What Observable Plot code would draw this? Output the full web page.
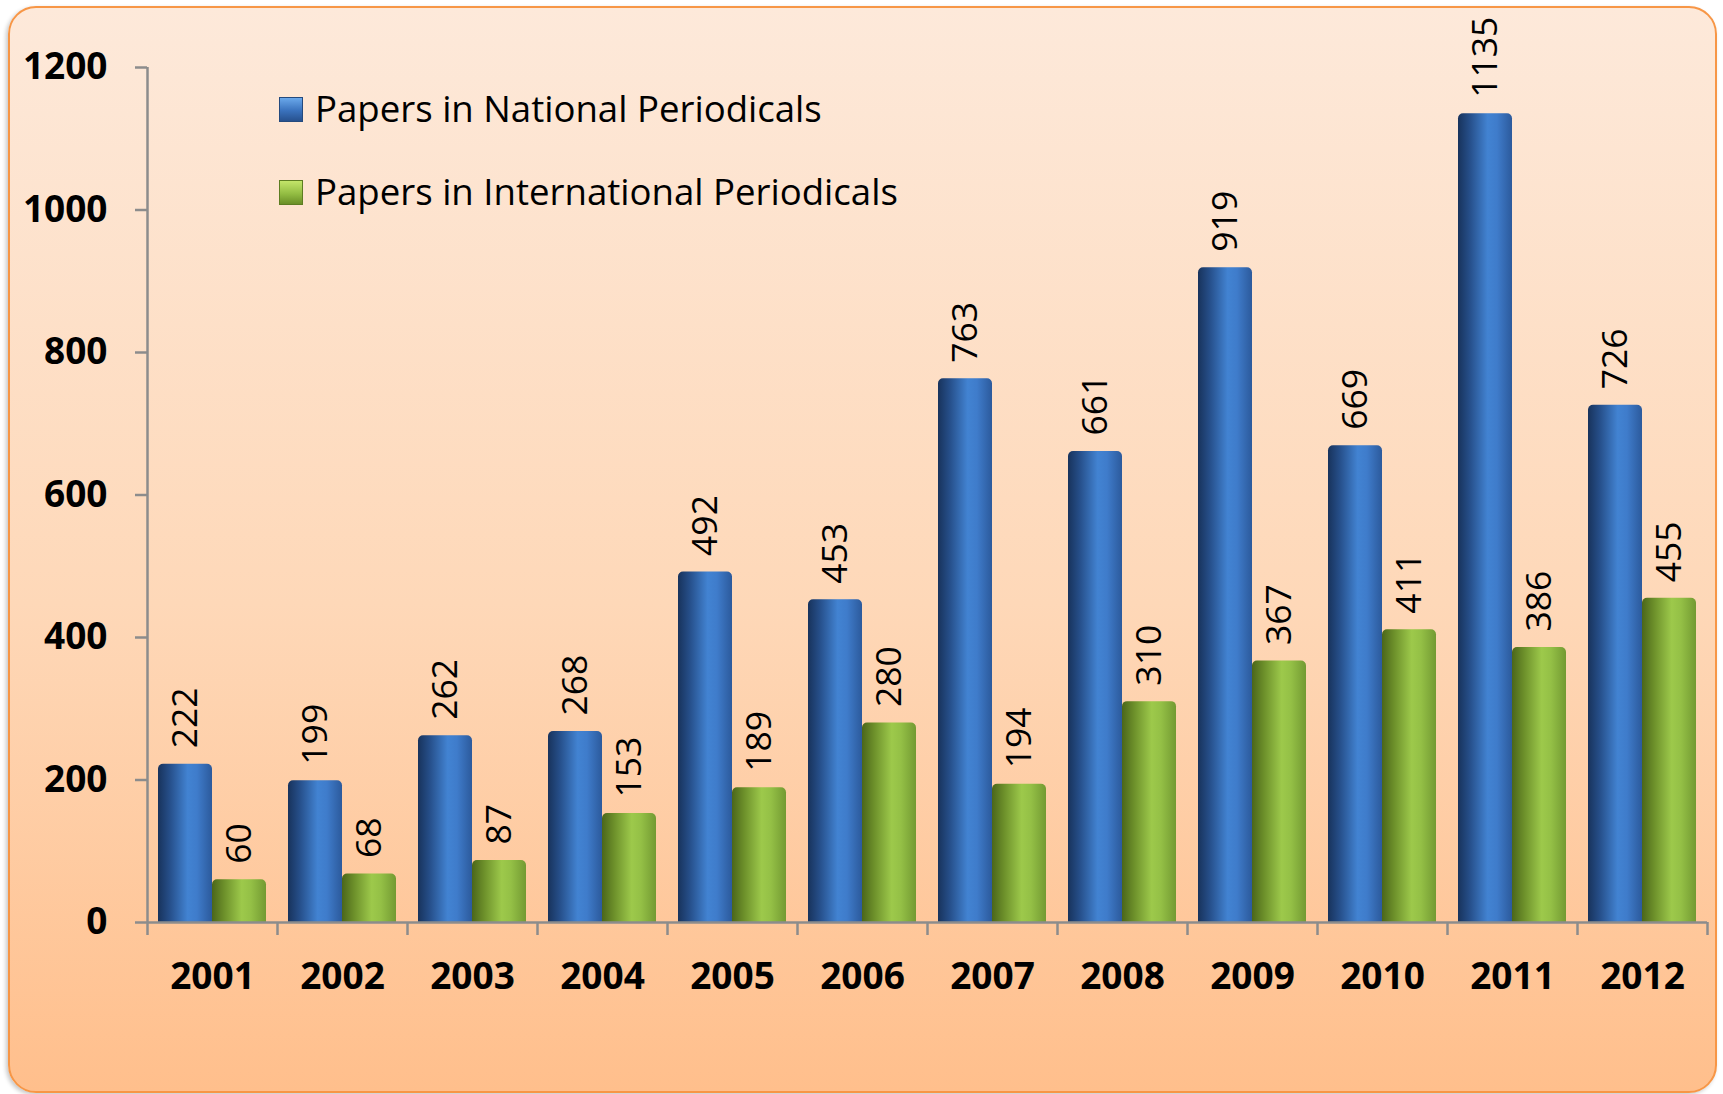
<!DOCTYPE html>
<html>
<head>
<meta charset="utf-8">
<script src="https://cdn.jsdelivr.net/npm/d3@7"></script>
<script src="https://cdn.jsdelivr.net/npm/@observablehq/plot@0.6"></script>
<style>
  html, body { margin: 0; padding: 0; background: #ffffff; }
  #wrap { position: relative; width: 1723px; height: 1094px; overflow: hidden; font-family: "Open Sans", sans-serif; }
  #bg { position: absolute; left: 8px; top: 6px; width: 1705px; height: 1083px;
        border: 2.5px solid #f79646; border-radius: 28px;
        background: linear-gradient(to bottom, #fde9da, #fed8b8 55%, #ffbf8c);
        box-shadow: -2px 2px 4px rgba(0,0,0,0.22); }
  #chart { position: absolute; left: 0; top: 0; }
  .lg { position: absolute; font-size: 36.6px; line-height: 36px; color: #000; white-space: nowrap; }
  .sw { position: absolute; width: 24px; height: 25px; box-sizing: border-box; }
</style>
</head>
<body>
<div id="wrap">
  <div id="bg"></div>
  <div id="chart"></div>
  <div class="sw" style="left:279px; top:97px; background: linear-gradient(to bottom, #6aa8ea, #3a72bd 55%, #27518e); border:1px solid #244a7e;"></div>
  <div class="lg" id="lg1" style="left:315px; top:90px;"></div>
  <div class="sw" style="left:279px; top:180px; background: linear-gradient(to bottom, #c3e56a, #93bd43 55%, #6a8f27); border:1px solid #5d7d22;"></div>
  <div class="lg" id="lg2" style="left:315px; top:173px;"></div>
</div>
<script>
// ---- data ----
const years = ["2001","2002","2003","2004","2005","2006","2007","2008","2009","2010","2011","2012"];
const national = [222, 199, 262, 268, 492, 453, 763, 661, 919, 669, 1135, 726];
const international = [60, 68, 87, 153, 189, 280, 194, 310, 367, 411, 386, 455];
const seriesNames = ["Papers in National Periodicals", "Papers in International Periodicals"];
const yTicks = [0, 200, 400, 600, 800, 1000, 1200];

const rows = years.map((year, i) => ({year, national: national[i], international: international[i]}));

document.getElementById("lg1").textContent = seriesNames[0];
document.getElementById("lg2").textContent = seriesNames[1];

// ---- layout ----
const W = 1723, H = 1094, mL = 147, mR = 16, mT = 67, mB = 172;
const pInner = 22 / 130, pOuter = 11 / 130;
const step = (W - mL - mR) / years.length;
const bw = step * (1 - pInner);
const half = bw / 2;
const tickUnits = 13 * (yTicks[yTicks.length - 1] - yTicks[0]) / (H - mT - mB);
const axisGray = "#8c8c8c";

const svg = Plot.plot({
  width: W, height: H,
  marginLeft: mL, marginRight: mR, marginTop: mT, marginBottom: mB,
  style: {background: "transparent", fontFamily: "'Open Sans', sans-serif", overflow: "visible"},
  x: {type: "band", domain: years, paddingInner: pInner, paddingOuter: pOuter, align: 0.5, axis: null},
  y: {domain: [0, 1200], axis: null},
  marks: [
    Plot.barY(rows, {x: "year", y: "national", fill: "url(#gBlue)", insetRight: half, ry1: 5}),
    Plot.barY(rows, {x: "year", y: "international", fill: "url(#gGreen)", insetLeft: half, ry1: 5}),
    Plot.text(rows, {x: "year", y: "national", text: d => String(d.national), rotate: -90, textAnchor: "start",
      dx: -half / 2, dy: -16, fontSize: 35.5, fill: "black"}),
    Plot.text(rows, {x: "year", y: "international", text: d => String(d.international), rotate: -90, textAnchor: "start",
      dx: half / 2, dy: -16, fontSize: 35.5, fill: "black"}),
    Plot.ruleY([0], {stroke: axisGray, strokeWidth: 2.5}),
    Plot.ruleX([years[0]], {x: d => d, dx: -step / 2, y1: -tickUnits, y2: 1200, stroke: axisGray, strokeWidth: 2.5}),
    Plot.ruleX(years.slice(1), {x: d => d, dx: -step / 2, y1: -tickUnits, y2: 0, stroke: axisGray, strokeWidth: 2.5}),
    Plot.ruleX([years[years.length - 1]], {x: d => d, dx: step / 2, y1: -tickUnits, y2: 0, stroke: axisGray, strokeWidth: 2.5}),
    Plot.axisY({ticks: yTicks, tickFormat: d3.format("d"), tickSize: 12, tickPadding: 28, stroke: axisGray, strokeWidth: 2.5, fill: "black",
      fontSize: 37, fontWeight: "bold", label: null}),
    Plot.axisX({tickSize: 0, tickPadding: 40, fill: "black", fontSize: 37, fontWeight: "bold", label: null})
  ]
});

// gradients for the cylinder look
const defs = d3.select(svg).insert("defs", ":first-child");
const gb = defs.append("linearGradient").attr("id", "gBlue").attr("x1", 0).attr("x2", 1).attr("y1", 0).attr("y2", 0);
[[0, "#18335c"], [0.22, "#264f8a"], [0.55, "#4283d2"], [0.72, "#3f7ccb"], [1, "#2c5a9c"]].forEach(([o, c]) =>
  gb.append("stop").attr("offset", o).attr("stop-color", c));
const gg = defs.append("linearGradient").attr("id", "gGreen").attr("x1", 0).attr("x2", 1).attr("y1", 0).attr("y2", 0);
[[0, "#4b661a"], [0.22, "#6c8f2a"], [0.55, "#9dc94b"], [0.72, "#94c046"], [1, "#739a32"]].forEach(([o, c]) =>
  gg.append("stop").attr("offset", o).attr("stop-color", c));

document.getElementById("chart").appendChild(svg);
</script>
</body>
</html>
